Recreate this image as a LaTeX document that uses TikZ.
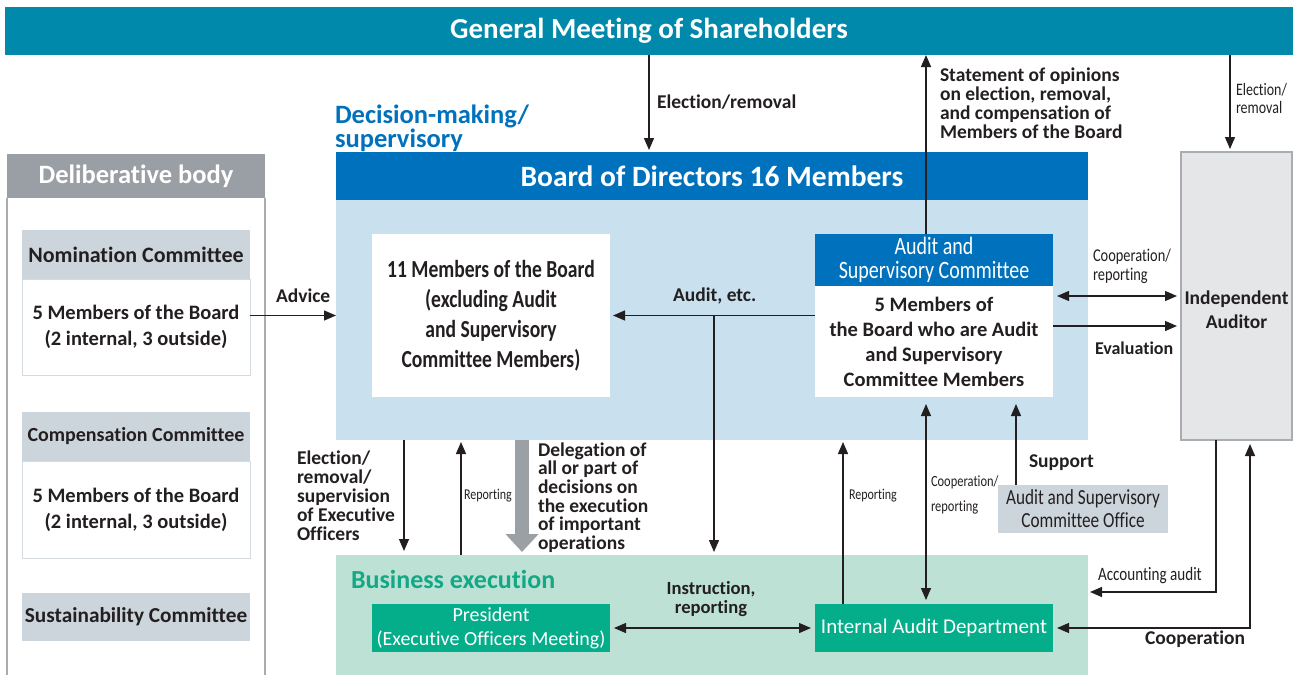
\documentclass[tikz,border=0pt]{standalone}
\usepackage{fontspec}
\setmainfont[Ligatures=NoCommon]{Carlito}
\newfontfamily\cf[FakeStretch=0.8,Ligatures=NoCommon]{Carlito}
\usetikzlibrary{arrows.meta,calc}
\definecolor{gmteal}{HTML}{0089AB}
\definecolor{bodblue}{HTML}{0071BC}
\definecolor{bodlight}{HTML}{C9E1EE}
\definecolor{delgrey}{HTML}{999FA4}
\definecolor{comgrey}{HTML}{CDD5DC}
\definecolor{comline}{HTML}{D3DAE0}
\definecolor{audgrey}{HTML}{E5E6E8}
\definecolor{audline}{HTML}{A9ADB1}
\definecolor{belight}{HTML}{BDE2D5}
\definecolor{begreen}{HTML}{05AE8A}
\definecolor{betext}{HTML}{14A886}
\definecolor{ink}{HTML}{231F20}
\definecolor{thickgrey}{HTML}{9BA0A5}
\begin{document}
\begin{tikzpicture}[x=1pt,y=-1pt,
  box/.style={rectangle,inner sep=0pt,outer sep=0pt,align=center,text=ink},
  lbl/.style={inner sep=0pt,outer sep=0pt,text=ink,align=left},
  lblf/.style={font=\fontsize{19.5}{19}\selectfont\bfseries},
  arr/.style={draw=ink,line width=1.3pt,-{Triangle[length=12pt,width=10pt]}},
  darr/.style={draw=ink,line width=1.3pt,{Triangle[length=12pt,width=10pt]}-{Triangle[length=12pt,width=10pt]}},
  sideline/.style={draw=audline,line width=1.5pt}
]
\useasboundingbox (0,0) rectangle (1298,675);

% guide coordinates
\coordinate (bot) at (0,675);
\coordinate (xA) at (649,0);
\coordinate (xS) at (926,0);
\coordinate (xE) at (1230,0);
\coordinate (x404) at (404,0);
\coordinate (x461) at (461,0);
\coordinate (x522) at (522,0);
\coordinate (x714) at (714,0);
\coordinate (x843) at (843,0);
\coordinate (x1016) at (1016,0);
\coordinate (x1216) at (1216,0);
\coordinate (x1250) at (1250,0);
\coordinate (yEval) at (0,326);
\coordinate (yAcc) at (0,592);

% General meeting
\node[box,fill=gmteal,minimum width=1288pt,minimum height=48pt,text=white,
  font=\fontsize{29}{34}\selectfont\bfseries] (gm) at (649,31) {General Meeting of Shareholders};

% Deliberative body
\node[box,fill=delgrey,minimum width=258pt,minimum height=44pt,text=white,
  font=\fontsize{26.5}{30}\selectfont\bfseries] (dh) at (136,176) {Deliberative body};
\draw[sideline] (dh.south west) -- (dh.south west |- bot);
\draw[sideline] (dh.south east) -- (dh.south east |- bot);

\node[box,draw=comline,line width=1pt,fill=white,minimum width=228pt,minimum height=96pt,
  font=\fontsize{20.5}{26}\selectfont\bfseries] (nomb) at (136,327) {5 Members of the Board\\(2 internal, 3 outside)};
\node[box,fill=comgrey,minimum width=228pt,minimum height=49pt,
  font=\fontsize{22}{24}\selectfont\bfseries] (nomh) at (136,254.5) {Nomination Committee};

\node[box,draw=comline,line width=1pt,fill=white,minimum width=228pt,minimum height=97pt,
  font=\fontsize{20.5}{26}\selectfont\bfseries] (comb) at (136,509.5) {5 Members of the Board\\(2 internal, 3 outside)};
\node[box,fill=comgrey,minimum width=228pt,minimum height=49pt,
  font=\fontsize{20}{24}\selectfont\bfseries] (comh) at (136,436.5) {Compensation Committee};

\node[box,fill=comgrey,minimum width=228pt,minimum height=48pt,
  font=\fontsize{21.3}{24}\selectfont\bfseries] (susc) at (136,617) {Sustainability Committee};

% Board of directors
\node[lbl,anchor=west,text=bodblue,font=\fontsize{26.5}{23}\selectfont\bfseries] (dm) at (335,128) {Decision-making/\\supervisory};
\node[box,fill=bodlight,minimum width=752pt,minimum height=240pt] (bodarea) at (712,320) {};
\node[box,fill=bodblue,minimum width=752pt,minimum height=48pt,text=white,
  font=\fontsize{29.5}{32}\selectfont\bfseries] (bod) at (712,176) {Board of Directors 16 Members};

\node[box,fill=white,minimum width=238pt,minimum height=163pt,
  font=\cf\fontsize{24.5}{30}\selectfont\bfseries] (m11) at (491,315.5) {11 Members of the Board\\(excluding Audit\\and Supervisory\\Committee Members)};

\node[box,fill=bodblue,minimum width=238pt,minimum height=52pt,text=white,
  font=\cf\fontsize{25}{24.5}\selectfont] (asch) at (934,260) {Audit and\\Supervisory Committee};
\node[box,fill=white,minimum width=238pt,minimum height=111pt,
  font=\fontsize{20.5}{25}\selectfont\bfseries] (asbody) at (934,341.5) {5 Members of\\the Board who are Audit\\and Supervisory\\Committee Members};

% Independent auditor
\node[box,fill=audgrey,draw=audline,line width=1.2pt,minimum width=111pt,minimum height=288pt] (ia) at (1236.5,296) {};
\node[lbl,align=center,font=\fontsize{19.5}{24}\selectfont\bfseries] (iat) at (1236.5,310) {Independent\\Auditor};

% Business execution
\node[box,fill=belight,minimum width=752pt,minimum height=120pt] (bearea) at (712,615) {};
\node[lbl,anchor=west,text=betext,font=\fontsize{26}{28}\selectfont\bfseries] (betitle) at (351,579) {Business execution};
\node[box,fill=begreen,minimum width=238pt,minimum height=48pt,text=white,
  font=\fontsize{20}{24}\selectfont] (pres) at (491,628) {President\\(Executive Officers Meeting)};
\node[box,fill=begreen,minimum width=238pt,minimum height=48pt,text=white,
  font=\fontsize{21}{24}\selectfont] (iad) at (934,628) {Internal Audit Department};

% Audit and Supervisory Committee Office
\node[box,fill=comgrey,minimum width=170pt,minimum height=48pt,
  font=\cf\fontsize{21.5}{23}\selectfont] (aso) at (1083,509) {Audit and Supervisory\\Committee Office};

% ---- connectors ----
\draw[arr,shorten >=2pt] (gm.south -| xA) -- (bod.north -| xA);
\node[lbl,lblf,anchor=west] (l1) at (657,102) {Election/removal};

\draw[arr] (asch.north -| xS) -- (gm.south -| xS);
\node[lbl,lblf,anchor=west] (l2) at (940,103) {Statement of opinions\\on election, removal,\\and compensation of\\Members of the Board};

\draw[arr,shorten >=3pt] (gm.south -| xE) -- (ia.north -| xE);
\node[lbl,anchor=west,font=\cf\fontsize{17.5}{18}\selectfont] (l3) at (1236,98) {Election/\\removal};

\draw[arr] (nomb.east |- m11.east) -- (bodarea.west |- m11.east);
\node[lbl,lblf,anchor=west] (l4) at (276,296) {Advice};

\draw[arr,shorten >=3pt] (asbody.west |- m11.east) -- (m11.east);
\node[lbl,lblf,anchor=west] (l5) at (673,296) {Audit, etc.};
\draw[arr,shorten >=3pt] (x714 |- m11.east) -- (x714 |- bearea.north);

\draw[darr,shorten <=4pt,shorten >=4pt] (asbody.east |- ia.west) -- (ia.west);
\node[lbl,anchor=west,font=\cf\fontsize{18}{19}\selectfont] (l6) at (1093,266.5) {Cooperation/\\reporting};
\draw[arr,shorten >=4pt] (asbody.east |- yEval) -- (ia.west |- yEval);
\node[lbl,anchor=west,font=\fontsize{18}{19}\selectfont\bfseries] (l7) at (1095,348) {Evaluation};

\draw[arr,shorten >=4pt] (bodarea.south -| x404) -- (bearea.north -| x404);
\node[lbl,lblf,anchor=west] (l8) at (297,496) {Election/\\removal/\\supervision\\of Executive\\Officers};

\draw[arr,shorten >=2pt] (bearea.north -| x461) -- (bodarea.south -| x461);
\node[lbl,anchor=west,font=\cf\fontsize{15}{18}\selectfont] (l9) at (464,496) {Reporting};

\draw[draw=thickgrey,line width=14pt,-{Triangle[length=18pt,width=32pt]},shorten >=3pt] (bodarea.south -| x522) -- (bearea.north -| x522);
\node[lbl,anchor=west,font=\fontsize{19.5}{18.6}\selectfont\bfseries] (l10) at (538,497.5) {Delegation of\\all or part of\\decisions on\\the execution\\of important\\operations};

\draw[darr,shorten <=4pt,shorten >=4pt] (pres.east) -- (iad.west);
\node[lbl,align=center,font=\fontsize{18.6}{19}\selectfont\bfseries] (l11) at (711,599.5) {Instruction,\\reporting};

\draw[arr,shorten >=2pt] (iad.north -| x843) -- (bodarea.south -| x843);
\node[lbl,anchor=west,font=\cf\fontsize{15}{18}\selectfont] (l12) at (849,496) {Reporting};

\draw[darr,shorten <=7pt,shorten >=4pt] (asbody.south -| xS) -- (iad.north -| xS);
\node[lbl,anchor=west,font=\cf\fontsize{15.6}{25}\selectfont] (l13) at (931,494.5) {Cooperation/\\reporting};

\draw[arr,shorten >=7pt] (aso.north -| x1016) -- (asbody.south -| x1016);
\node[lbl,lblf,anchor=west] (l14) at (1029,463) {Support};

\draw[arr,shorten >=2pt] (ia.south -| x1216) |- (bearea.east |- yAcc);
\node[lbl,anchor=west,font=\cf\fontsize{18.9}{19}\selectfont] (l15) at (1098,576) {Accounting audit};

\draw[darr,shorten <=4pt,shorten >=4pt] (iad.east) -| (ia.south -| x1250);
\node[lbl,lblf,anchor=west] (l16) at (1145,639) {Cooperation};
\end{tikzpicture}
\end{document}
